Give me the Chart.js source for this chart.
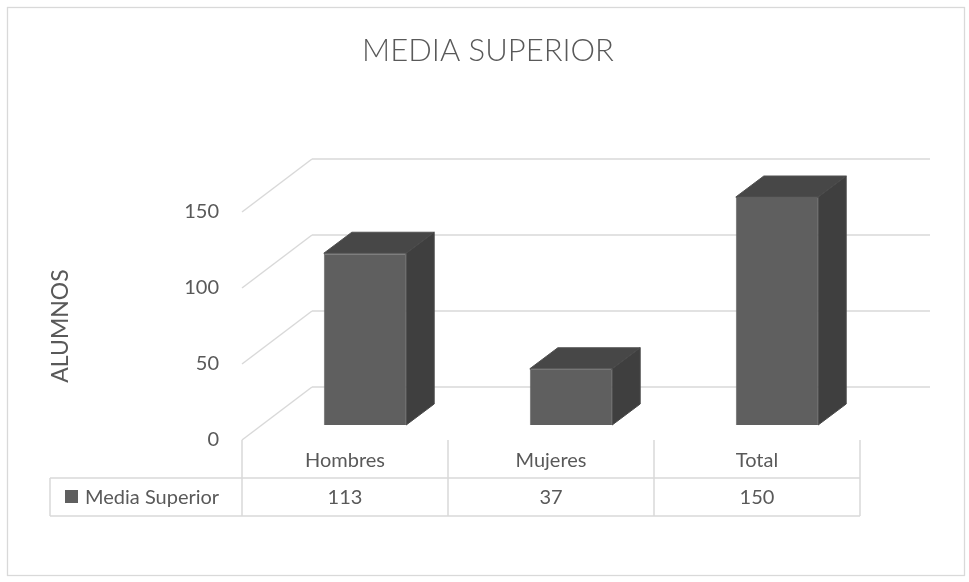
<!DOCTYPE html>
<html><head><meta charset="utf-8">
<script src="https://cdn.jsdelivr.net/npm/chart.js@4/dist/chart.umd.min.js"></script>
<style>html,body{margin:0;padding:0;background:#fff}#wrap{width:969px;height:582px}</style>
</head><body><div id="wrap"><canvas id="c" width="969" height="582"></canvas></div>
<script>
const chartTitle = 'MEDIA SUPERIOR';
const axisTitle = 'ALUMNOS';
const seriesName = 'Media Superior';
const categories = ['Hombres', 'Mujeres', 'Total'];
const values = [113, 37, 150];
const yTicks = [0, 50, 100, 150];

const TEXT = '#595959';
const GRID = '#d9d9d9';
const FONT = 'Lato, "Open Sans", sans-serif';
const BACK = {dx: 50, dy: -38};   // back wall relative to bar plane
const FRONT = {dx: -20, dy: 15};  // front edge relative to bar plane
const DEPTH = {dx: 28, dy: -21};  // bar depth

function line(ctx, x1, y1, x2, y2) {
  ctx.beginPath(); ctx.moveTo(x1, y1); ctx.lineTo(x2, y2); ctx.stroke();
}

const excel3d = {
  id: 'excel3d',
  beforeDraw(chart) {
    const ctx = chart.ctx;
    ctx.save();
    ctx.fillStyle = '#fff';
    ctx.fillRect(0, 0, chart.width, chart.height);
    ctx.strokeStyle = GRID; ctx.lineWidth = 1.3;
    ctx.strokeRect(7.5, 7.5, 957, 568);
    ctx.restore();
  },
  beforeDatasetsDraw(chart) {
    const ctx = chart.ctx;
    const xs = chart.scales.x, ys = chart.scales.y;
    const L = xs.left, R = xs.right;
    ctx.save();
    ctx.strokeStyle = GRID; ctx.lineWidth = 1.5;
    // back wall gridlines + side wall diagonals
    ys.ticks.forEach(t => {
      const y = ys.getPixelForValue(t.value);
      line(ctx, L + BACK.dx, y + BACK.dy, R + BACK.dx, y + BACK.dy);
      line(ctx, L + FRONT.dx, y + FRONT.dy, L + BACK.dx, y + BACK.dy);
    });
    // data table
    const n = categories.length;
    const cw = (R - L) / n;
    const y0 = ys.getPixelForValue(0) + FRONT.dy;
    const rowTop = 478, rowBot = 516;
    const legendLeft = 50;
    for (let i = 0; i <= n; i++) {
      const bx = L + i * cw + FRONT.dx;
      line(ctx, bx, y0, bx, rowBot);
    }
    line(ctx, legendLeft, rowTop, L + n * cw + FRONT.dx, rowTop);
    line(ctx, legendLeft, rowBot, L + n * cw + FRONT.dx, rowBot);
    line(ctx, legendLeft, rowTop, legendLeft, rowBot);
    // texts
    ctx.fillStyle = TEXT;
    ctx.font = '20px ' + FONT;
    ctx.textAlign = 'center'; ctx.textBaseline = 'middle';
    categories.forEach((c, i) => {
      const cx = xs.getPixelForValue(i) + FRONT.dx;
      ctx.fillText(c, cx, (y0 + rowTop) / 2 + 2);
      ctx.fillText(String(values[i]), cx, (rowTop + rowBot) / 2 + 1);
    });
    // legend key
    ctx.fillStyle = '#5f5f5f';
    ctx.fillRect(65, 490, 13, 13);
    ctx.fillStyle = TEXT;
    ctx.textAlign = 'left';
    ctx.fillText(seriesName, 85, (rowTop + rowBot) / 2 + 1);
    // axis title
    ctx.save();
    const yTop = ys.getPixelForValue(yTicks[yTicks.length - 1]) + FRONT.dy;
    ctx.translate(61, (y0 + yTop) / 2);
    ctx.rotate(-Math.PI / 2);
    ctx.textAlign = 'center';
    ctx.font = '23px ' + FONT;
    ctx.fillText(axisTitle, 0, 0);
    ctx.restore();
    ctx.restore();
  },
  afterDatasetsDraw(chart) {
    const ctx = chart.ctx;
    const meta = chart.getDatasetMeta(0);
    ctx.save();
    meta.data.forEach(bar => {
      const x0 = bar.x - bar.width / 2, x1 = bar.x + bar.width / 2;
      const yt = bar.y, yb = bar.base;
      // top face
      ctx.beginPath();
      ctx.moveTo(x0, yt); ctx.lineTo(x1, yt);
      ctx.lineTo(x1 + DEPTH.dx, yt + DEPTH.dy); ctx.lineTo(x0 + DEPTH.dx, yt + DEPTH.dy);
      ctx.closePath();
      ctx.fillStyle = '#474747'; ctx.fill();
      ctx.strokeStyle = '#525252'; ctx.lineWidth = 1; ctx.stroke();
      // side face
      ctx.beginPath();
      ctx.moveTo(x1, yt); ctx.lineTo(x1 + DEPTH.dx, yt + DEPTH.dy);
      ctx.lineTo(x1 + DEPTH.dx, yb + DEPTH.dy); ctx.lineTo(x1, yb);
      ctx.closePath();
      ctx.fillStyle = '#3f3f3f'; ctx.fill();
      ctx.strokeStyle = '#4a4a4a'; ctx.stroke();
    });
    ctx.restore();
  }
};

new Chart(document.getElementById('c'), {
  type: 'bar',
  data: {
    labels: categories,
    datasets: [{
      label: seriesName,
      data: values,
      backgroundColor: '#5f5f5f',
      borderColor: '#6b6b6b',
      borderWidth: 1,
      categoryPercentage: 1,
      barPercentage: 0.4
    }]
  },
  options: {
    responsive: false,
    animation: false,
    devicePixelRatio: 1,
    layout: {padding: {top: 0, left: 96, right: 89, bottom: 157}},
    plugins: {
      legend: {display: false},
      tooltip: {enabled: false},
      title: {
        display: true,
        text: chartTitle,
        color: TEXT,
        font: {family: FONT, size: 31, weight: '300'},
        padding: {top: 32, bottom: 127.8}
      }
    },
    scales: {
      x: {display: false},
      y: {
        min: 0, max: 150,
        afterBuildTicks: s => { s.ticks = yTicks.map(v => ({value: v})); },
        afterFit: s => { s.width = 166; },
        grid: {display: false, drawTicks: false},
        border: {display: false},
        ticks: {color: TEXT, font: {family: FONT, size: 20}, padding: 43, labelOffset: 15}
      }
    }
  },
  plugins: [excel3d]
});
</script>
</body></html>
